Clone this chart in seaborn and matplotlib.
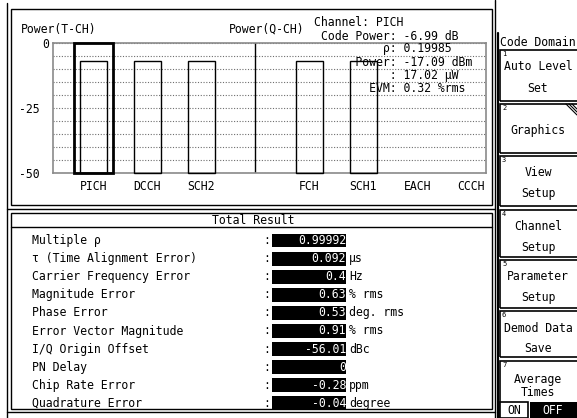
import matplotlib
matplotlib.use("Agg")
import matplotlib.pyplot as plt
from matplotlib.patches import Rectangle
from matplotlib.lines import Line2D
from matplotlib.ticker import MultipleLocator, FixedLocator
from matplotlib.transforms import ScaledTranslation
import pandas as pd
import seaborn as sns

# ---- code-domain power per channel slot (dB) ----
slot_labels = ["PICH", "DCCH", "SCH2", "", "FCH", "SCH1", "EACH", "CCCH"]
channels = ["PICH", "DCCH", "SCH2", "FCH", "SCH1"]
code_power_db = [-6.99, -6.99, -6.99, -6.99, -6.99]
selected_channel = "PICH"
power_floor_db = -50
power_top_db = 0
y_tick_values = [0, -25, -50]
grid_step_db = 5

# ---- marker readout for the selected channel ----
marker_code_power = "-6.99"
marker_rho = "0.19985"
marker_power_dbm = "-17.09"
marker_power_uw = "17.02"
marker_evm = "0.32"

# ---- total result table ----
result_names = [
    "Multiple ρ",
    "τ (Time Alignment Error)",
    "Carrier Frequency Error",
    "Magnitude Error",
    "Phase Error",
    "Error Vector Magnitude",
    "I/Q Origin Offset",
    "PN Delay",
    "Chip Rate Error",
    "Quadrature Error",
]
result_values = ["0.99992", "0.092", "0.4", "0.63", "0.53", "0.91",
                 "-56.01", "0", "-0.28", "-0.04"]
result_units = ["", "µs", "Hz", "% rms", "deg. rms", "% rms",
                "dBc", "", "ppm", "degree"]

# ---- soft keys ----
softkey_title = "Code Domain"
softkey_labels = ["Auto Level\nSet", "Graphics", "View\nSetup",
                  "Channel\nSetup", "Parameter\nSetup", "Demod Data\nSave",
                  "Average\nTimes"]
toggle_labels = ["ON", "OFF"]

W, H = 577, 418
MONO = ["DejaVu Sans Mono"]
FS = 8.3


def fx(px):
    return px / W


def fy(py):
    return 1 - py / H


sns.set_theme(style="white")
plt.rcParams["font.family"] = MONO
plt.rcParams["font.size"] = FS

fig = plt.figure(figsize=(W / 100, H / 100), dpi=100)
fig.patch.set_facecolor("white")


def hline(x0, x1, y, lw=1.0, color="black"):
    fig.add_artist(Line2D([fx(x0), fx(x1)], [fy(y), fy(y)], lw=lw,
                          color=color, transform=fig.transFigure))


def vline(x, y0, y1, lw=1.0, color="black"):
    fig.add_artist(Line2D([fx(x), fx(x)], [fy(y0), fy(y1)], lw=lw,
                          color=color, transform=fig.transFigure))


def box(x0, y0, x1, y1, lw=1.0, fc="none", ec="black", z=1):
    fig.add_artist(Rectangle((fx(x0), fy(y1)), fx(x1) - fx(x0),
                             fy(y0) - fy(y1), lw=lw, fc=fc, ec=ec,
                             transform=fig.transFigure, zorder=z))


def text(x, y, s, ha="left", va="center", size=FS, color="black", **kw):
    fig.text(fx(x), fy(y), s, ha=ha, va=va, fontsize=size, color=color,
             family=MONO, **kw)


# ---- panel frames ----
vline(7, 3, 418)
vline(495, 0, 418)
box(11, 9, 492, 205)
hline(7, 495, 209)
box(11, 213, 492, 409)
hline(7, 495, 412)
hline(11, 492, 227)
vline(498, 33, 418, lw=1.6)

# ---- code-domain power graph ----
ax = fig.add_axes([fx(53), fy(173), fx(486) - fx(53), fy(43) - fy(173)])
bars = pd.DataFrame({"channel": channels, "power": code_power_db})
bars["height"] = bars["power"] - power_floor_db
sns.barplot(data=bars, x="channel", y="height", order=slot_labels,
            bottom=power_floor_db, width=0.5, fill=False, color="black",
            linewidth=1.0, errorbar=None, ax=ax)
sel = pd.DataFrame({"channel": [selected_channel],
                    "height": [power_top_db - power_floor_db]})
sns.barplot(data=sel, x="channel", y="height", order=slot_labels,
            bottom=power_floor_db, width=0.72, fill=False, color="black",
            linewidth=2.0, errorbar=None, ax=ax)
for p in ax.patches:
    p.set_zorder(3)
    p.set_clip_on(False)
ax.axvline(slot_labels.index(""), color="black", lw=1.0)

ax.set_xlim(-0.75, 7.27)
ax.set_ylim(power_floor_db, power_top_db)
ax.yaxis.set_major_locator(FixedLocator(y_tick_values))
ax.yaxis.set_minor_locator(MultipleLocator(grid_step_db))
ax.set_yticklabels([str(v) for v in y_tick_values])
ax.grid(True, axis="y", which="both", color="#6e6e6e", lw=0.8,
        linestyle=(0, (1, 1.5)))
ax.set_axisbelow(True)
ax.set_xlabel("")
ax.set_ylabel("")
ax.tick_params(axis="both", which="both", length=0, labelsize=FS,
               colors="black")
ax.tick_params(axis="y", pad=9.5)
ax.tick_params(axis="x", pad=5)
for sp in ax.spines.values():
    sp.set_color("#8a8a8a")
    sp.set_linewidth(1.2)
    sp.set_visible(True)
ax.set_facecolor("none")
# the top scale value sits a little closer to the axis
for tick in ax.yaxis.get_major_ticks():
    if tick.get_loc() == power_top_db:
        lab = tick.label1
        lab.set_transform(lab.get_transform() +
                          ScaledTranslation(0.09, 0.0, fig.dpi_scale_trans))

text(21, 29.5, "Power(T-CH)")
text(229, 29.5, "Power(Q-CH)")
text(314, 22, f"Channel: {selected_channel}")
readout = [
    (36, f"Code Power: {marker_code_power} dB"),
    (48.5, f"         ρ: {marker_rho}"),
    (62, f"     Power: {marker_power_dbm} dBm"),
    (75, f"          : {marker_power_uw} μW"),
    (88, f"       EVM: {marker_evm} %rms"),
]
for yy, s in readout:
    text(321, yy, s)

# ---- total result table ----
text(253, 220, "Total Result", ha="center")
row0, step = 240.5, 18.1
for i, (name, val, unit) in enumerate(zip(result_names, result_values,
                                          result_units)):
    yy = row0 + i * step
    text(32, yy, name)
    text(267, yy, ":", ha="center")
    box(272, yy - 7, 346, yy + 7, lw=0, fc="black", ec="black", z=2)
    text(346, yy, val, ha="right", color="white", zorder=3)
    if unit:
        text(349, yy, unit)

# ---- soft key column ----
text(500, 43, softkey_title)
key_spans = [(50, 101), (104, 153), (156, 206), (210, 257), (260, 308),
             (311, 357), (361, 425)]
for k, ((y0, y1), lab) in enumerate(zip(key_spans, softkey_labels)):
    box(500, y0, 590, y1, lw=1.2)
    text(502, y0 + 4, str(k + 1), size=5)
    lines = lab.split("\n")
    if len(lines) == 2 and k < 6:
        text(538, y0 + 17, lines[0], ha="center")
        text(538, y0 + 38, lines[1], ha="center")
    elif k < 6:
        text(538, (y0 + y1) / 2 + 2, lines[0], ha="center")
    else:
        text(538, y0 + 18, lines[0], ha="center")
        text(538, y0 + 32, lines[1], ha="center")

# submenu mark on the Graphics key
gy0 = key_spans[1][0]
for d in (0, 3, 6):
    fig.add_artist(Line2D([fx(566 + d), fx(577)], [fy(gy0), fy(gy0 + 11 - d)],
                          lw=0.8, color="black", transform=fig.transFigure))

# ON / OFF toggle on the Average key
ty = key_spans[6][0] + 48
box(500, ty - 7, 528, ty + 9, lw=1.2, fc="white")
box(530, ty - 7, 577, ty + 9, lw=0, fc="black")
text(514, ty + 1, toggle_labels[0], ha="center")
text(553, ty + 1, toggle_labels[1], ha="center", color="white")

fig.savefig("out.png", dpi=100, facecolor="white")
